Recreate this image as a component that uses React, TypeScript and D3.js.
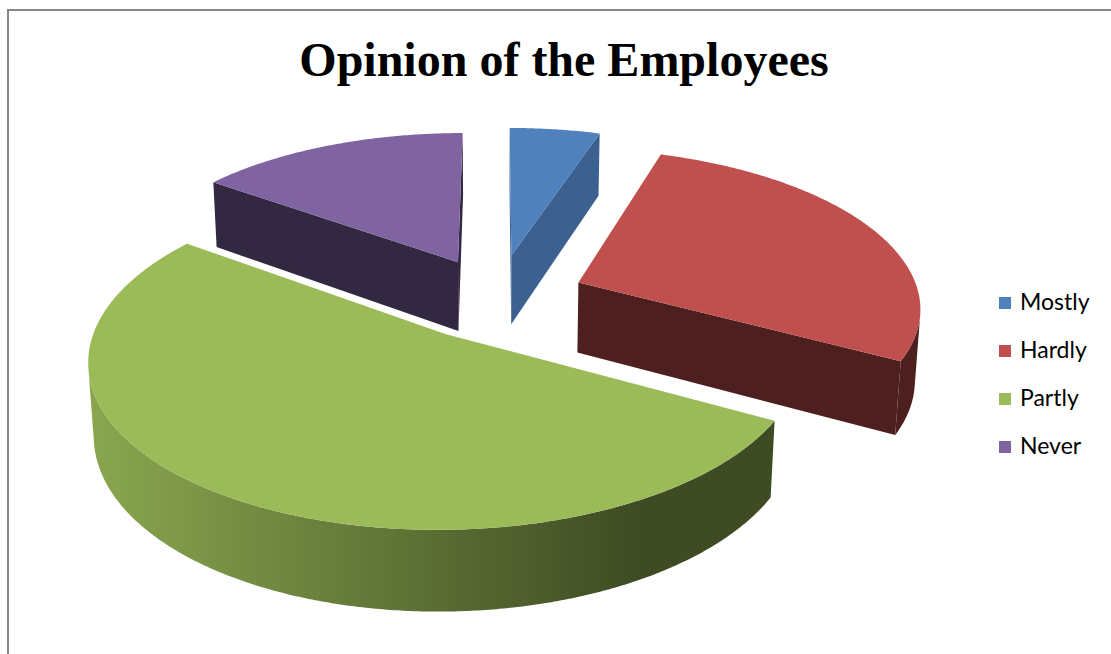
import React from "react";
import * as d3 from "d3";

// Survey answers (percent of employees)
const categories = ["Mostly", "Hardly", "Partly", "Never"];
const values = [5, 28, 52, 15];

// Slice colours: top face, cut (radial) faces
const faceColors = ["#4F81BD", "#C0504D", "#9BBB59", "#8064A2"];
const sideColors = ["#3C6190", "#4E1F1F", "#3E4B23", "#322841"];

// How far each slice is pulled out (in pie radii)
const explode = [0.28, 0.26, 0.27, 0.26];

const title = "Opinion of the Employees";

// ---- 3-D view of a unit-radius pie ----
const WIDTH = 1111;
const HEIGHT = 654;
const TILT = (25 * Math.PI) / 180; // elevation of the eye
const DIST = 6.5; // eye distance (pie radii)
const DEPTH = 0.198; // pie thickness (pie radii)
const KX = 337;
const KY = 389;
const CX = 497;
const CY = 368;

type Pt = [number, number];

function project(X: number, Y: number, Z: number): Pt {
  const v = Y * Math.cos(TILT) + Z * Math.sin(TILT);
  const w = Z * Math.cos(TILT) - Y * Math.sin(TILT);
  const s = DIST / (DIST + w);
  return [CX + KX * X * s, CY - KY * v * s];
}

// eye position in pie coordinates (X right, Y up, Z away)
const EYE = [0, DIST * Math.sin(TILT), -DIST * Math.cos(TILT)];

function faces(nx: number, nz: number, px: number, pz: number) {
  return nx * (EYE[0] - px) + nz * (EYE[2] - pz) > 0;
}

const closed = d3.line<Pt>().curve(d3.curveLinearClosed);

export default function App() {
  const pie = d3
    .pie<number>()
    .sort(null)
    .value((d) => d)
    .startAngle(0)
    .endAngle(2 * Math.PI);
  const arcs = pie(values);

  const step = Math.PI / 360;
  // horizontal lighting across the outer wall
  const shade = d3.scaleLinear().domain([88, 640]).range([0.18, 1]).clamp(true);

  const slices = arcs.map((a, i) => {
    const mid = (a.startAngle + a.endAngle) / 2;
    const ox = explode[i] * Math.sin(mid);
    const oz = explode[i] * Math.cos(mid);
    const rim = (t: number, y: number) => project(ox + Math.sin(t), y, oz + Math.cos(t));
    const apex = (y: number) => project(ox, y, oz);

    const ts = d3.range(a.startAngle, a.endAngle, step).concat([a.endAngle]);

    const top: Pt[] = [apex(DEPTH), ...ts.map((t) => rim(t, DEPTH))];

    // visible runs of the curved outer wall
    const runs: number[][] = [];
    let cur: number[] = [];
    ts.forEach((t) => {
      const vis = faces(Math.sin(t), Math.cos(t), ox + Math.sin(t), oz + Math.cos(t));
      if (vis) cur.push(t);
      else if (cur.length) {
        runs.push(cur);
        cur = [];
      }
    });
    if (cur.length) runs.push(cur);
    const walls = runs
      .filter((r) => r.length > 1)
      .map((r) => [...r.map((t) => rim(t, DEPTH)), ...r.slice().reverse().map((t) => rim(t, 0))] as Pt[]);

    // radial cut faces
    const cuts: Pt[][] = [];
    const radial = (t: number, nx: number, nz: number) => {
      const px = ox + 0.5 * Math.sin(t);
      const pz = oz + 0.5 * Math.cos(t);
      if (faces(nx, nz, px, pz)) {
        cuts.push([apex(DEPTH), rim(t, DEPTH), rim(t, 0), apex(0)]);
      }
    };
    radial(a.startAngle, -Math.cos(a.startAngle), Math.sin(a.startAngle));
    radial(a.endAngle, Math.cos(a.endAngle), -Math.sin(a.endAngle));

    return { i, oz, top, walls, cuts };
  });

  // paint far slices first
  const order = slices.slice().sort((p, q) => q.oz - p.oz);

  const legendX = 999;
  const legendY0 = 303;
  const legendGap = 48;

  return (
    <svg
      width={WIDTH}
      height={HEIGHT}
      style={{ position: "absolute", left: 0, top: 0, display: "block", background: "#ffffff" }}
    >
      <defs>
        {faceColors.map((c, i) => {
          const mix = d3.interpolateRgb(c, sideColors[i]);
          const [r0, r1] = shade.range();
          return (
            <linearGradient
              key={i}
              id={`wall${i}`}
              gradientUnits="userSpaceOnUse"
              x1={shade.domain()[0]}
              x2={shade.domain()[1]}
              y1={0}
              y2={0}
            >
              {[0, 0.25, 0.5, 0.75, 1].map((o) => (
                <stop key={o} offset={o} stopColor={mix(r0 + o * (r1 - r0))} />
              ))}
            </linearGradient>
          );
        })}
      </defs>

      <rect x={8} y={10} width={1300} height={900} fill="none" stroke="#868686" strokeWidth={2} />

      <text
        x={564}
        y={76}
        textAnchor="middle"
        fontFamily="'Liberation Serif', 'Times New Roman', serif"
        fontWeight="bold"
        fontSize={48}
        fill="#000"
      >
        {title}
      </text>

      {order.map((s) => (
        <g key={s.i}>
          {s.cuts.map((c, k) => (
            <path key={`c${k}`} d={closed(c) || ""} fill={sideColors[s.i]} />
          ))}
          {s.walls.map((w, k) => (
            <path key={`w${k}`} d={closed(w) || ""} fill={`url(#wall${s.i})`} />
          ))}
          <path d={closed(s.top) || ""} fill={faceColors[s.i]} />
        </g>
      ))}

      {categories.map((c, i) => (
        <g key={c} transform={`translate(${legendX},${legendY0 + i * legendGap})`}>
          <rect x={0} y={-6} width={12} height={12} fill={faceColors[i]} />
          <text x={21} y={6.5} fontFamily="Lato, 'Open Sans', sans-serif" fontSize={23} fill="#000">
            {c}
          </text>
        </g>
      ))}
    </svg>
  );
}
